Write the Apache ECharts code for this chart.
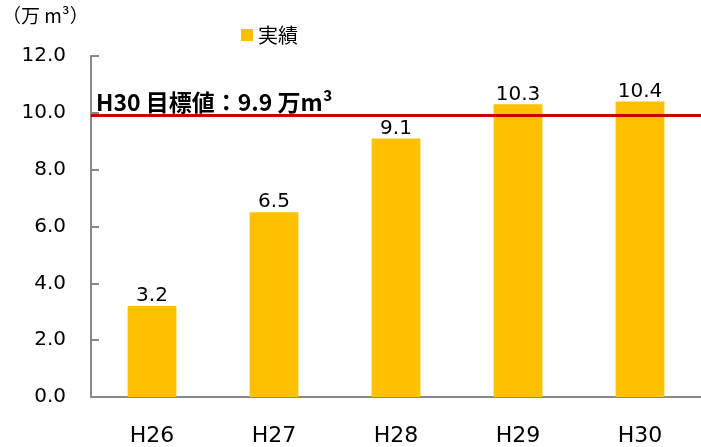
<!DOCTYPE html>
<html><head><meta charset="utf-8">
<script src="https://cdn.jsdelivr.net/npm/echarts@6/dist/echarts.min.js"></script>
<style>html,body{margin:0;padding:0;background:#fff}#c{width:701px;height:447px}</style>
</head><body><div id="c"></div>
<script>
const categories = ['H26', 'H27', 'H28', 'H29', 'H30'];
const actualValues = [3.2, 6.5, 9.1, 10.3, 10.4];
const targetValue = 9.9;
const seriesName = '実績';
const targetLabel = 'H30 目標値：9.9 万m³';
const unitLabel = '（万 m³）';

const chart = echarts.init(document.getElementById('c'), null, {renderer: 'canvas'});
chart.setOption({
  animation: false,
  backgroundColor: '#fff',
  textStyle: {fontFamily: 'DejaVu Sans'},
  legend: {
    data: [seriesName],
    left: 236, top: 20,
    itemWidth: 12, itemHeight: 12, itemGap: 4,
    icon: 'rect',
    textStyle: {fontFamily: 'Noto Sans CJK JP', fontSize: 20, color: '#000'}
  },
  graphic: [{
    type: 'text', left: 2, top: 6,
    style: {text: unitLabel, font: '19px "Noto Sans CJK JP"', fill: '#000'}
  }],
  grid: {left: 91, top: 56, width: 615, height: 342, containLabel: false},
  xAxis: {
    type: 'category', data: categories,
    axisLine: {lineStyle: {color: '#888888', width: 2}},
    axisTick: {inside: true, length: 8, lineStyle: {color: '#888888', width: 2}},
    axisLabel: {fontSize: 22, color: '#000', margin: 28, fontFamily: 'DejaVu Sans'}
  },
  yAxis: {
    type: 'value', min: 0, max: 12, interval: 2,
    axisLine: {show: true, lineStyle: {color: '#888888', width: 2}},
    axisTick: {show: true, inside: true, length: 8, lineStyle: {color: '#888888', width: 2}},
    splitLine: {show: false},
    axisLabel: {fontSize: 20, color: '#000', margin: 25, fontFamily: 'DejaVu Sans',
      formatter: v => v.toFixed(1)}
  },
  series: [{
    name: seriesName, type: 'bar', data: actualValues,
    barWidth: '40%',
    itemStyle: {color: '#FFC000'},
    label: {show: true, position: 'top', distance: 0, fontSize: 20, color: '#000',
      fontFamily: 'DejaVu Sans', formatter: p => p.value.toFixed(1)},
    markLine: {
      symbol: 'none', silent: true,
      lineStyle: {color: '#CC0000', width: 3, type: 'solid'},
      label: {show: true, position: 'insideStartTop', formatter: targetLabel,
        fontFamily: 'Noto Sans CJK JP', fontWeight: 'bold', fontSize: 23, color: '#000',
        distance: [5, 2]},
      data: [{yAxis: targetValue}]
    }
  }]
});
</script></body></html>
